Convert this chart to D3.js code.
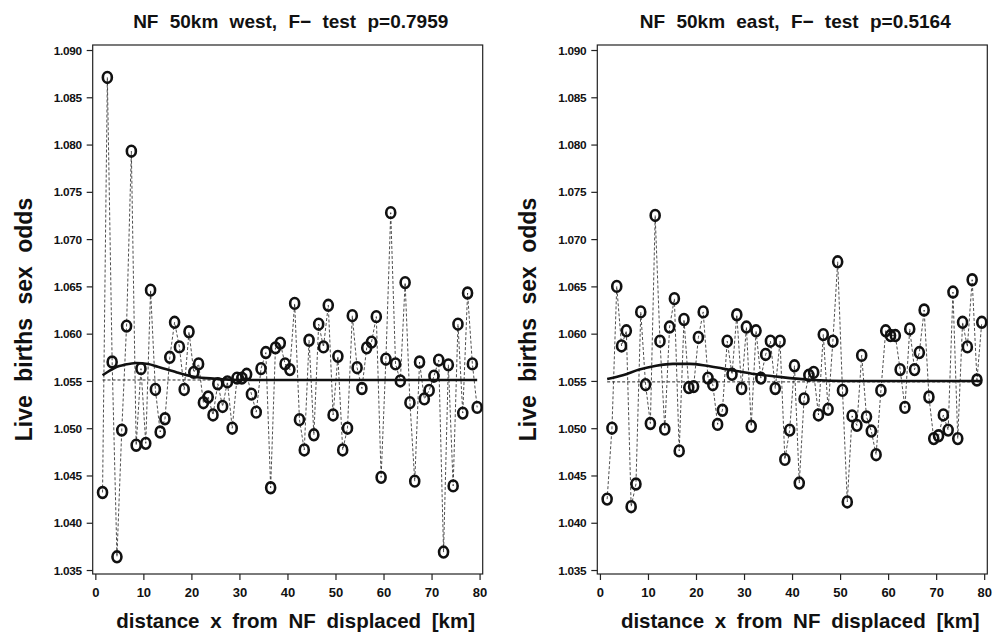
<!DOCTYPE html>
<html lang="en">
<head>
<meta charset="UTF-8" />
<script src="https://d3js.org/d3.v7.min.js"></script>
<title>NF 50km west / east</title>
<style>
  body { margin: 0; background: #fff; }
  text { font-family: "Liberation Sans", Arial, sans-serif; font-weight: bold; fill: #111; }
</style>
</head>
<body>
<script>
// distance bins (km)
var distKm = [1.5,2.5,3.5,4.5,5.5,6.5,7.5,8.5,9.5,10.5,11.5,12.5,13.5,14.5,15.5,16.5,17.5,18.5,19.5,20.5,
  21.5,22.5,23.5,24.5,25.5,26.5,27.5,28.5,29.5,30.5,31.5,32.5,33.5,34.5,35.5,36.5,37.5,38.5,39.5,40.5,
  41.5,42.5,43.5,44.5,45.5,46.5,47.5,48.5,49.5,50.5,51.5,52.5,53.5,54.5,55.5,56.5,57.5,58.5,59.5,60.5,
  61.5,62.5,63.5,64.5,65.5,66.5,67.5,68.5,69.5,70.5,71.5,72.5,73.5,74.5,75.5,76.5,77.5,78.5,79.5];

var westOdds = [1.0432,1.0871,1.0570,1.0364,1.0498,1.0608,1.0793,1.0482,1.0563,1.0484,
  1.0646,1.0541,1.0496,1.0510,1.0575,1.0612,1.0586,1.0541,1.0602,1.0559,
  1.0568,1.0527,1.0533,1.0514,1.0547,1.0523,1.0549,1.0500,1.0553,1.0553,
  1.0557,1.0536,1.0517,1.0563,1.0580,1.0437,1.0585,1.0590,1.0568,1.0562,
  1.0632,1.0509,1.0477,1.0593,1.0493,1.0610,1.0586,1.0630,1.0514,1.0576,
  1.0477,1.0500,1.0619,1.0564,1.0542,1.0585,1.0591,1.0618,1.0448,1.0573,
  1.0728,1.0568,1.0550,1.0654,1.0527,1.0444,1.0570,1.0531,1.0540,1.0555,
  1.0572,1.0369,1.0567,1.0439,1.0610,1.0516,1.0643,1.0568,1.0522];

var eastOdds = [1.0425,1.0500,1.0650,1.0587,1.0603,1.0417,1.0441,1.0623,1.0546,1.0505,
  1.0725,1.0592,1.0499,1.0607,1.0637,1.0476,1.0615,1.0543,1.0544,1.0596,
  1.0623,1.0553,1.0546,1.0504,1.0519,1.0592,1.0557,1.0620,1.0542,1.0607,
  1.0502,1.0603,1.0553,1.0578,1.0592,1.0542,1.0592,1.0467,1.0498,1.0566,
  1.0442,1.0531,1.0556,1.0559,1.0514,1.0599,1.0520,1.0592,1.0676,1.0540,
  1.0422,1.0513,1.0503,1.0577,1.0512,1.0497,1.0472,1.0540,1.0603,1.0598,
  1.0598,1.0562,1.0522,1.0605,1.0562,1.0580,1.0625,1.0533,1.0489,1.0492,
  1.0514,1.0498,1.0644,1.0489,1.0612,1.0586,1.0657,1.0551,1.0612];

// smooth fit, read at a few distances
var westFitKm = [1.5,3,4.5,6,8.5,11,13,15,17,20,23,26,30,40,60,79.5];
var westFit   = [1.0556,1.0561,1.0565,1.0567,1.0569,1.0568,1.0565,1.0562,1.0559,1.0555,1.0553,1.0552,1.0551,1.0551,1.0551,1.0551];
var eastFitKm = [1.5,4.75,8.2,11.7,15.2,18.7,22.2,25.6,29.1,32.6,36.1,44.5,51.4,60,79.5];
var eastFit   = [1.0552,1.0556,1.0562,1.0566,1.0568,1.0568,1.0566,1.0563,1.0560,1.0557,1.0555,1.0551,1.0550,1.0550,1.0550];

var westMean = 1.0551, eastMean = 1.0549;

var yTicks = [1.035,1.040,1.045,1.050,1.055,1.060,1.065,1.070,1.075,1.080,1.085,1.090];
var xTicks = [0,10,20,30,40,50,60,70,80];
var titles = ["NF 50km west, F\u2212  test p=0.7959", "NF 50km east, F\u2212  test p=0.5164"];

var W = 996, H = 634;
var svg = d3.select("body").append("svg").attr("width", W).attr("height", H);

var panels = [
  {left: 92.7, odds: westOdds, fitKm: westFitKm, fit: westFit, mean: westMean, title: titles[0]},
  {left: 597.3, odds: eastOdds, fitKm: eastFitKm, fit: eastFit, mean: eastMean, title: titles[1]}
];
var plotTop = 45, pw = 390, ph = 529;

panels.forEach(function(p) {
  var g = svg.append("g").attr("transform", "translate(" + p.left + "," + plotTop + ")");
  var x = d3.scaleLinear().domain([-0.55, 80.65]).range([0, pw]);
  var y = d3.scaleLinear().domain([1.03458, 1.09053]).range([ph, 0]);

  g.append("rect").attr("width", pw).attr("height", ph)
    .attr("fill", "none").attr("stroke", "#222").attr("stroke-width", 1.2);

  var ya = g.append("g").call(d3.axisLeft(y).tickValues(yTicks).tickFormat(d3.format(".3f")).tickSize(6).tickSizeOuter(0));
  ya.select(".domain").remove();
  ya.selectAll("line").attr("stroke", "#222").attr("stroke-width", 1.2);
  ya.selectAll("text").attr("font-size", 11.8).attr("font-family", null).attr("x", -11).attr("dy", "0.35em").style("letter-spacing", "-0.3px");

  var xa = g.append("g").attr("transform", "translate(0," + ph + ")")
    .call(d3.axisBottom(x).tickValues(xTicks).tickSize(6).tickSizeOuter(0));
  xa.select(".domain").remove();
  xa.selectAll("line").attr("stroke", "#222").attr("stroke-width", 1.2);
  xa.selectAll("text").attr("font-size", 13).attr("font-family", null).attr("y", 14);

  var pts = distKm.map(function(d, i) { return [d, p.odds[i]]; });

  // mean line
  g.append("line")
    .attr("x1", x(distKm[0])).attr("x2", x(distKm[distKm.length - 1]))
    .attr("y1", y(p.mean)).attr("y2", y(p.mean))
    .attr("stroke", "#111").attr("stroke-width", 0.9).attr("stroke-dasharray", "3,2");

  // dashed connecting line
  g.append("path").datum(pts)
    .attr("d", d3.line().x(function(d) { return x(d[0]); }).y(function(d) { return y(d[1]); }))
    .attr("fill", "none").attr("stroke", "#222").attr("stroke-width", 0.8).attr("stroke-dasharray", "3,2");

  // smooth fit
  var fitPts = p.fitKm.map(function(d, i) { return [d, p.fit[i]]; });
  g.append("path").datum(fitPts)
    .attr("d", d3.line().curve(d3.curveMonotoneX).x(function(d) { return x(d[0]); }).y(function(d) { return y(d[1]); }))
    .attr("fill", "none").attr("stroke", "#111").attr("stroke-width", 2.6);

  // point markers ("O")
  g.selectAll("ellipse.pt").data(pts).enter().append("ellipse")
    .attr("class", "pt")
    .attr("cx", function(d) { return x(d[0]); })
    .attr("cy", function(d) { return y(d[1]); })
    .attr("rx", 4.5).attr("ry", 5.4)
    .attr("fill", "none").attr("stroke", "#111").attr("stroke-width", 2.6);

  svg.append("text").attr("x", p.left + pw / 2 + 3).attr("y", 28)
    .attr("text-anchor", "middle").attr("font-size", 19).style("word-spacing", "6px")
    .text(p.title);

  svg.append("text").attr("x", p.left + pw / 2 + 8).attr("y", 628)
    .attr("text-anchor", "middle").attr("font-size", 20.5).style("word-spacing", "5px")
    .text("distance x from NF displaced [km]");

  svg.append("text")
    .attr("transform", "translate(" + (p.left - 61) + "," + (plotTop + ph / 2 + 10) + ") rotate(-90)")
    .attr("text-anchor", "middle").attr("font-size", 23).style("word-spacing", "7px")
    .text("Live births sex odds");
});
</script>
</body>
</html>
